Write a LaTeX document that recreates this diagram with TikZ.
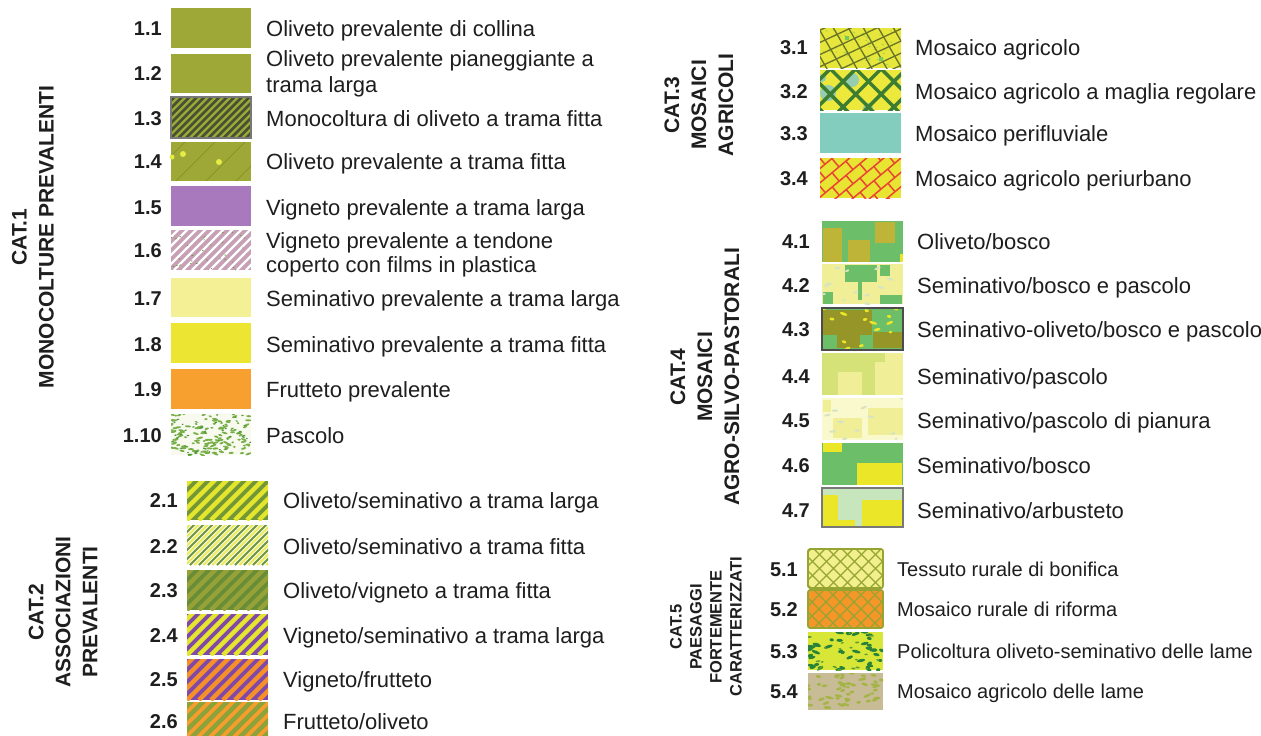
\documentclass[tikz,border=0pt]{standalone}
\usepackage{fontspec}
\setmainfont{Liberation Sans}
\definecolor{txt}{RGB}{30,30,30}
\definecolor{olv}{RGB}{157,168,55}
\definecolor{dk13}{RGB}{70,80,50}
\definecolor{gray13}{RGB}{120,120,120}
\definecolor{l14}{RGB}{135,140,40}
\definecolor{dot14}{RGB}{230,235,70}
\definecolor{pur15}{RGB}{168,121,188}
\definecolor{mauve}{RGB}{200,160,182}
\definecolor{gdot}{RGB}{100,150,60}
\definecolor{pale17}{RGB}{243,240,150}
\definecolor{yel18}{RGB}{236,230,50}
\definecolor{ora19}{RGB}{247,160,48}
\definecolor{w110}{RGB}{248,250,240}
\definecolor{g110}{RGB}{120,175,70}
\definecolor{dg110}{RGB}{80,150,60}
\definecolor{g21}{RGB}{115,150,55}
\definecolor{y21}{RGB}{228,230,45}
\definecolor{g22}{RGB}{110,150,60}
\definecolor{y22}{RGB}{235,235,90}
\definecolor{w22}{RGB}{250,250,235}
\definecolor{g23}{RGB}{105,140,55}
\definecolor{o23}{RGB}{150,162,55}
\definecolor{pur24}{RGB}{128,72,168}
\definecolor{ora25}{RGB}{245,145,40}
\definecolor{ora26}{RGB}{245,158,45}
\definecolor{g26}{RGB}{140,162,58}
\definecolor{y31}{RGB}{230,230,60}
\definecolor{net31}{RGB}{105,115,40}
\definecolor{lg31}{RGB}{165,210,70}
\definecolor{sq31}{RGB}{120,200,90}
\definecolor{y32}{RGB}{236,232,60}
\definecolor{teal32}{RGB}{150,205,175}
\definecolor{dg32}{RGB}{60,125,50}
\definecolor{teal33}{RGB}{130,205,190}
\definecolor{y34}{RGB}{232,228,50}
\definecolor{red34}{RGB}{232,70,50}
\definecolor{mgreen}{RGB}{108,190,105}
\definecolor{molive}{RGB}{190,180,55}
\definecolor{mpale}{RGB}{240,238,150}
\definecolor{myg}{RGB}{212,226,120}
\definecolor{mvpale}{RGB}{250,248,205}
\definecolor{myellow}{RGB}{236,230,40}
\definecolor{mpgreen}{RGB}{200,230,190}
\definecolor{mdol}{RGB}{150,150,40}
\definecolor{mdot}{RGB}{215,228,195}
\definecolor{p51}{RGB}{242,240,140}
\definecolor{h5}{RGB}{150,165,50}
\definecolor{ora52}{RGB}{245,150,40}
\definecolor{b53}{RGB}{215,230,55}
\definecolor{dg53}{RGB}{40,130,55}
\definecolor{mg53}{RGB}{90,160,50}
\definecolor{tan54}{RGB}{200,188,150}
\definecolor{o54}{RGB}{165,180,70}

% stripes "/" : x1 y1 x2 y2 colour width period offset
\newcommand\stripeset[8]{%
  \begin{scope}
    \clip (#1,#2) rectangle (#3,#4);
    \foreach \k in {0,...,34}{\draw[#5,line width=#6] ({#1-60+#8+\k*#7},#4) -- ++(60,-60);}
  \end{scope}}
% random blobs : x1 y1 x2 y2 colour count size seed
\newcommand\speckle[8]{%
  \begin{scope}
    \clip (#1,#2) rectangle (#3,#4);
    \pgfmathsetseed{#8}%
    \foreach \k in {1,...,#6}{%
      \pgfmathsetmacro\bx{#1+rnd*(#3-#1)}%
      \pgfmathsetmacro\by{#2+rnd*(#4-#2)}%
      \pgfmathsetmacro\bw{#7*(0.6+0.8*rnd)}%
      \pgfmathsetmacro\br{rnd*50-25}%
      \fill[#5, rotate around={\br:(\bx,\by)}] (\bx,\by) ellipse [x radius=\bw, y radius=#7*0.45];}
  \end{scope}}
% legend entry : name number numx yc textx text
\newcommand\legitem[6]{%
  \node[num] (n#1) at (#3,#4+7) {#2};
  \node[lbl] (t#1) at (#5,#4+8) {#6};}
\newcommand\legitemsm[6]{%
  \node[num] (n#1) at (#3,#4+7) {#2};
  \node[lblsm] (t#1) at (#5,#4+7) {#6};}

\tikzset{
  lbl/.style={anchor=base west, font=\fontsize{22}{26}\selectfont, inner sep=0pt, text=txt},
  lblsm/.style={lbl, font=\fontsize{20}{24}\selectfont},
  num/.style={anchor=base east, font=\bfseries\fontsize{20}{24}\selectfont, inner sep=0pt, text=txt},
  cat/.style={rotate=90, align=center, font=\bfseries\fontsize{21}{27}\selectfont, text=txt, inner sep=0pt},
  catsm/.style={cat, font=\bfseries\fontsize{16.5}{20}\selectfont},
}

\begin{document}
\begin{tikzpicture}[x=1pt,y=-1pt]
\useasboundingbox (0,0) rectangle (1261,736);
\fill[white] (0,0) rectangle (1261,736);

% ---------------- CAT.1 swatches ----------------
\fill[olv] (171,8) rectangle (251,48);
\fill[olv] (171,54) rectangle (251,93);
\fill[olv] (171,97) rectangle (251,138);
\stripeset{171}{97}{251}{138}{dk13}{2.6}{7.5}{0}
\draw[gray13,line width=1.3] (171,97) rectangle (251,138);
\fill[olv] (171,142) rectangle (251,181);
\stripeset{171}{142}{251}{181}{l14}{0.6}{30}{5}
\fill[dot14] (172,157) circle (2.5) (183,154) circle (3) (219,162) circle (3);
\fill[pur15] (171,186) rectangle (251,226);
\fill[mauve] (171,230) rectangle (251,270);
\stripeset{171}{230}{251}{270}{white}{2.4}{9}{0}
\speckle{171}{230}{251}{270}{gdot}{30}{1.1}{7}
\fill[pale17] (171,278) rectangle (251,317);
\fill[yel18] (171,323) rectangle (251,363);
\fill[ora19] (171,369) rectangle (251,409);
\fill[w110] (171,414) rectangle (251,455);
\speckle{171}{414}{251}{455}{g110}{130}{2.3}{3}
\speckle{171}{414}{251}{455}{dg110}{45}{1.6}{5}

% ---------------- CAT.2 swatches ----------------
\fill[g21] (187,481) rectangle (268,520);
\stripeset{187}{481}{268}{520}{y21}{4.3}{12}{0}
\fill[w22] (187,525) rectangle (268,565);
\stripeset{187}{525}{268}{565}{g22}{2}{9}{0}
\stripeset{187}{525}{268}{565}{y22}{2}{9}{4.5}
\fill[g23] (187,570) rectangle (268,610);
\stripeset{187}{570}{268}{610}{o23}{4.3}{12}{0}
\fill[pur24] (187,614) rectangle (268,655);
\stripeset{187}{614}{268}{655}{y21}{4.3}{12}{0}
\fill[pur24] (187,659) rectangle (268,700);
\stripeset{187}{659}{268}{700}{ora25}{4.3}{12}{0}
\fill[ora26] (187,702) rectangle (268,742);
\stripeset{187}{702}{268}{742}{g26}{4.3}{12}{0}

% ---------------- CAT.3 swatches ----------------
\begin{scope}
  \clip (820,28) rectangle (901,68);
  \fill[y31] (820,28) rectangle (901,68);
  \speckle{820}{28}{901}{68}{lg31}{50}{1.3}{11}
  \begin{scope}[shift={(860,48)}, rotate=25]
    \foreach \k in {-6,...,6} \draw[net31,line width=1.3] (-70,\k*11) -- (70,\k*11);
  \end{scope}
  \begin{scope}[shift={(860,48)}, rotate=-60]
    \foreach \k in {-6,...,6} \draw[net31,line width=1.3] (-70,\k*13) -- (70,\k*13);
  \end{scope}
  \fill[sq31] (845,36) rectangle (849,40) (879,57) rectangle (883,61);
\end{scope}
\begin{scope}
  \clip (820,70) rectangle (901,110);
  \fill[y32] (820,70) rectangle (901,110);
  \fill[teal32] (828,93) circle (8) (852,80) circle (7) (868,108) circle (5) (822,78) circle (4);
  \begin{scope}[shift={(860,90)}, rotate=45]
    \foreach \k in {-4,...,4} \draw[dg32,line width=3.5] (-70,\k*18) -- (70,\k*18);
  \end{scope}
  \begin{scope}[shift={(860,90)}, rotate=-45]
    \foreach \k in {-4,...,4} \draw[dg32,line width=3.5] (-70,\k*18+6) -- (70,\k*18+6);
  \end{scope}
\end{scope}
\fill[teal33] (820,113) rectangle (901,153);
\begin{scope}
  \clip (820,158) rectangle (901,198);
  \fill[y34] (820,158) rectangle (901,198);
  \begin{scope}[shift={(860,178)}, rotate=40]
    \foreach \k in {-5,...,5}{%
      \draw[red34,line width=1.5] (-70,\k*11) -- (70,\k*11);
      \foreach \j in {-5,...,5}{%
        \pgfmathsetmacro\ux{\j*18+mod(\k+10,2)*9}
        \draw[red34,line width=1.5] (\ux,\k*11) -- (\ux,\k*11+11);}}
  \end{scope}
\end{scope}

% ---------------- CAT.4 swatches ----------------
% 4.1
\fill[mgreen] (822,221) rectangle (903,262);
\fill[molive] (823,228) rectangle (842,262);
\fill[molive] (848,240) rectangle (870,262);
\fill[molive] (875,222) rectangle (895,243);
\fill[myellow] (900,254) rectangle (903,262);
% 4.2
\fill[mpale] (822,264) rectangle (903,304);
\fill[mgreen] (845,265) rectangle (877,282);
\fill[mgreen] (858,282) rectangle (862,300);
\fill[mgreen] (880,265) rectangle (890,276);
\fill[mgreen] (823,292) rectangle (833,304);
\fill[mgreen] (880,295) rectangle (902,304);
\speckle{822}{264}{903}{304}{mdot}{12}{2.6}{13}
% 4.3
\fill[mgreen] (822,308) rectangle (903,350);
\fill[mdol] (823,310) rectangle (872,335);
\fill[mdol] (837,335) rectangle (860,348);
\fill[mdol] (873,332) rectangle (902,348);
\speckle{822}{308}{903}{350}{myellow}{14}{3.2}{17}
\draw[black!70,line width=1.5] (822,308) rectangle (903,350);
% 4.4
\fill[myg] (822,353) rectangle (903,395);
\fill[mpale] (838,372) rectangle (862,395);
\fill[mpale] (875,362) rectangle (903,395);
\fill[mpale] (885,353) rectangle (903,362);
% 4.5
\fill[mvpale] (822,398) rectangle (903,440);
\fill[mpale] (833,418) rectangle (862,438);
\fill[mpale] (868,408) rectangle (903,435);
\fill[mpale] (823,400) rectangle (831,412);
\speckle{822}{398}{903}{440}{mdot}{12}{2.6}{19}
% 4.6
\fill[mgreen] (822,443) rectangle (903,485);
\fill[myellow] (823,443) rectangle (842,452);
\fill[myellow] (857,463) rectangle (902,485);
% 4.7
\fill[mpgreen] (822,488) rectangle (903,527);
\fill[myellow] (823,495) rectangle (838,525);
\fill[myellow] (862,500) rectangle (902,527);
\fill[myellow] (823,520) rectangle (855,527);
\draw[gray13,line width=1.5] (822,488) rectangle (903,527);

% ---------------- CAT.5 swatches ----------------
\fill[p51] (808,549) rectangle (883,588);
\begin{scope}
  \clip (808,549) rectangle (883,588);
  \foreach \k in {0,...,14}{\draw[h5,line width=1.2] ({808-50+\k*14},588) -- ++(50,-50);
    \draw[h5,line width=1.2] ({808-50+\k*14},549) -- ++(50,50);}
\end{scope}
\draw[h5,line width=1.6,rounded corners=2] (808,549) rectangle (883,588);
\fill[ora52] (808,590) rectangle (883,628);
\begin{scope}
  \clip (808,590) rectangle (883,628);
  \foreach \k in {0,...,14}{\draw[h5,line width=1.2] ({808-50+\k*14},628) -- ++(50,-50);
    \draw[h5,line width=1.2] ({808-50+\k*14},590) -- ++(50,50);}
\end{scope}
\draw[h5,line width=1.6,rounded corners=2] (808,590) rectangle (883,628);
\fill[b53] (808,632) rectangle (883,670);
\speckle{808}{632}{883}{670}{dg53}{45}{3.4}{23}
\speckle{808}{632}{883}{670}{mg53}{20}{2}{29}
\fill[tan54] (808,673) rectangle (883,710);
\speckle{808}{673}{883}{710}{o54}{50}{3.1}{31}

% ---------------- category titles ----------------
\node[cat] (c1) at (33,237) {CAT.1\\MONOCOLTURE PREVALENTI};
\node[cat] (c2) at (63,612) {CAT.2\\ASSOCIAZIONI\\PREVALENTI};
\node[cat] (c3) at (699,105) {CAT.3\\MOSAICI\\AGRICOLI};
\node[cat] (c4) at (705,377) {CAT.4\\MOSAICI\\AGRO-SILVO-PASTORALI};
\node[catsm] (c5) at (706,627) {CAT.5\\PAESAGGI\\FORTEMENTE\\CARATTERIZZATI};

% ---------------- labels ----------------
\legitem{a1}{1.1}{162}{28}{266}{Oliveto prevalente di collina}
\node[num] (na2) at (162,80) {1.2};
\node[lbl] (ta2) at (266,66) {Oliveto prevalente pianeggiante a};
\node[lbl] (ta2b) at (266,92) {trama larga};
\legitem{a3}{1.3}{162}{118}{266}{Monocoltura di oliveto a trama fitta}
\legitem{a4}{1.4}{162}{161}{266}{Oliveto prevalente a trama fitta}
\legitem{a5}{1.5}{162}{207}{266}{Vigneto prevalente a trama larga}
\node[num] (na6) at (162,257) {1.6};
\node[lbl] (ta6) at (266,248) {Vigneto prevalente a tendone};
\node[lbl] (ta6b) at (266,272) {coperto con films in plastica};
\legitem{a7}{1.7}{162}{298}{266}{Seminativo prevalente a trama larga}
\legitem{a8}{1.8}{162}{344}{266}{Seminativo prevalente a trama fitta}
\legitem{a9}{1.9}{162}{389}{266}{Frutteto prevalente}
\legitem{a10}{1.10}{162}{435}{266}{Pascolo}

\legitem{b1}{2.1}{178}{500}{283}{Oliveto/seminativo a trama larga}
\legitem{b2}{2.2}{178}{546}{283}{Oliveto/seminativo a trama fitta}
\legitem{b3}{2.3}{178}{590}{283}{Oliveto/vigneto a trama fitta}
\legitem{b4}{2.4}{178}{635}{283}{Vigneto/seminativo a trama larga}
\legitem{b5}{2.5}{178}{679}{283}{Vigneto/frutteto}
\legitem{b6}{2.6}{178}{721}{283}{Frutteto/oliveto}

\legitem{d1}{3.1}{808}{47}{915}{Mosaico agricolo}
\legitem{d2}{3.2}{808}{91}{915}{Mosaico agricolo a maglia regolare}
\legitem{d3}{3.3}{808}{133}{915}{Mosaico perifluviale}
\legitem{d4}{3.4}{808}{178}{915}{Mosaico agricolo periurbano}

\legitem{e1}{4.1}{810}{241}{917}{Oliveto/bosco}
\legitem{e2}{4.2}{810}{285}{917}{Seminativo/bosco e pascolo}
\legitem{e3}{4.3}{810}{329}{917}{Seminativo-oliveto/bosco e pascolo}
\legitem{e4}{4.4}{810}{376}{917}{Seminativo/pascolo}
\legitem{e5}{4.5}{810}{420}{917}{Seminativo/pascolo di pianura}
\legitem{e6}{4.6}{810}{465}{917}{Seminativo/bosco}
\legitem{e7}{4.7}{810}{510}{917}{Seminativo/arbusteto}

\legitemsm{f1}{5.1}{798}{569}{897}{Tessuto rurale di bonifica}
\legitemsm{f2}{5.2}{798}{609}{897}{Mosaico rurale di riforma}
\legitemsm{f3}{5.3}{798}{651}{897}{Policoltura oliveto-seminativo delle lame}
\legitemsm{f4}{5.4}{798}{691}{897}{Mosaico agricolo delle lame}
\end{tikzpicture}
\end{document}
